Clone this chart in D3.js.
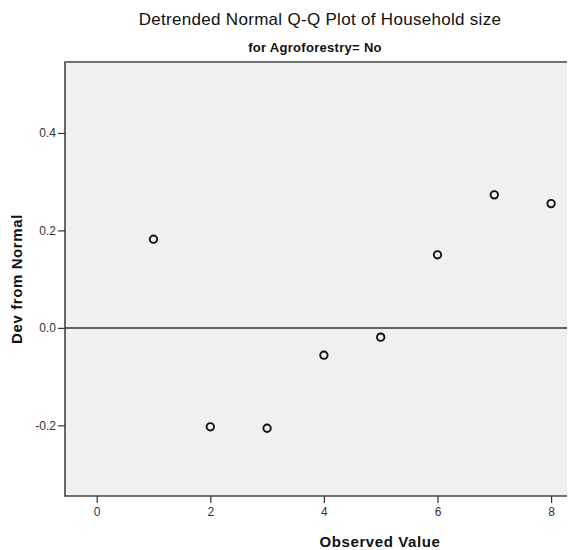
<!DOCTYPE html>
<html>
<head>
<meta charset="utf-8">
<script src="https://cdn.jsdelivr.net/npm/d3@7"></script>
<style>
  body { margin: 0; background: #fff; }
  svg { display: block; }
  text { font-family: Arial, "Liberation Sans", sans-serif; }
</style>
</head>
<body>
<svg id="chart" width="568" height="550"></svg>
<script>
// Observed household sizes and their deviation from the normal expectation
const observed = [1, 2, 3, 4, 5, 6, 7, 8];
const devFromNormal = [0.182, -0.203, -0.206, -0.056, -0.019, 0.150, 0.273, 0.255];
const xTicks = [0, 2, 4, 6, 8];
const yTicks = [-0.2, 0.0, 0.2, 0.4];

const svg = d3.select("#chart");
const frame = { left: 65, top: 62, right: 567, bottom: 496 };

const x = d3.scaleLinear().domain([-0.558, 8.28]).range([frame.left, frame.right]);
const y = d3.scaleLinear().domain([-0.345, 0.5456]).range([frame.bottom, frame.top]);

// Plot panel
svg.append("rect")
  .attr("x", frame.left).attr("y", frame.top)
  .attr("width", frame.right - frame.left)
  .attr("height", frame.bottom - frame.top)
  .attr("fill", "#f0f0f0");

// Reference line at zero deviation
svg.append("line")
  .attr("x1", frame.left).attr("x2", frame.right)
  .attr("y1", y(0)).attr("y2", y(0))
  .attr("stroke", "#333").attr("stroke-width", 1.5);

// Panel border (top, left, bottom)
svg.append("path")
  .attr("d", `M${frame.right},${frame.top}H${frame.left}V${frame.bottom}H${frame.right}`)
  .attr("fill", "none").attr("stroke", "#444").attr("stroke-width", 1.6);

// Axes
const xAxis = svg.append("g")
  .attr("transform", `translate(0,${frame.bottom})`)
  .call(d3.axisBottom(x).tickValues(xTicks).tickFormat(d3.format("d")).tickSize(7).tickPadding(4));
const yAxis = svg.append("g")
  .attr("transform", `translate(${frame.left},0)`)
  .call(d3.axisLeft(y).tickValues(yTicks)
    .tickFormat(d => d3.format(".1f")(d).replace("\u2212", "-"))
    .tickSize(7).tickPadding(2));

[xAxis, yAxis].forEach(g => {
  g.select(".domain").remove();
  g.selectAll(".tick line").attr("stroke", "#333").attr("stroke-width", 1.2);
  g.selectAll(".tick text")
    .attr("fill", "#333")
    .style("font-size", "12px")
    .style("font-family", "Arial, 'Liberation Sans', sans-serif");
});

// Data points
svg.append("g")
  .selectAll("circle")
  .data(observed.map((v, i) => ({ v, d: devFromNormal[i] })))
  .join("circle")
  .attr("cx", p => x(p.v))
  .attr("cy", p => y(p.d))
  .attr("r", 3.7)
  .attr("fill", "none")
  .attr("stroke", "#111")
  .attr("stroke-width", 1.9);

// Titles
svg.append("text")
  .attr("x", 320).attr("y", 25)
  .attr("text-anchor", "middle")
  .style("font-size", "17px")
  .style("letter-spacing", "0.3px")
  .attr("fill", "#111")
  .text("Detrended Normal Q-Q Plot of Household size");

svg.append("text")
  .attr("x", 315).attr("y", 52)
  .attr("text-anchor", "middle")
  .style("font-size", "13px").style("font-weight", "bold")
  .style("letter-spacing", "0.3px")
  .attr("fill", "#111")
  .text("for Agroforestry= No");

svg.append("text")
  .attr("x", 380).attr("y", 547)
  .attr("text-anchor", "middle")
  .style("font-size", "15px").style("font-weight", "bold")
  .style("letter-spacing", "0.6px")
  .attr("fill", "#111")
  .text("Observed Value");

svg.append("text")
  .attr("transform", `translate(22,${(frame.top + frame.bottom) / 2}) rotate(-90)`)
  .attr("text-anchor", "middle")
  .style("font-size", "15px").style("font-weight", "bold")
  .style("letter-spacing", "0.6px")
  .attr("fill", "#111")
  .text("Dev from Normal");
</script>
</body>
</html>
